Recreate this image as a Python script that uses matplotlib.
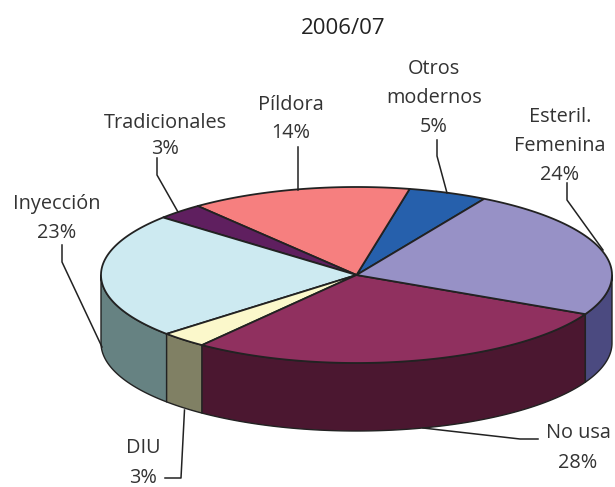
import numpy as np
import matplotlib
matplotlib.use("Agg")
import matplotlib.pyplot as plt
from matplotlib.patches import Polygon

title = "2006/07"
categories = ["Otros\nmodernos", "Píldora", "Tradicionales", "Inyección", "DIU", "No usa", "Esteril.\nFemenina"]
values = [5, 14, 3, 23, 3, 28, 24]
top_colors = ["#2660AC", "#F67F7F", "#5F1F5F", "#CDEAF1", "#FBF8CB", "#90305F", "#9791C6"]
side_colors = ["#1A4070", "#A05050", "#3E143E", "#668282", "#808064", "#4B1730", "#4B4A80"]

START = 60.0
CX, CY, A, B, DEPTH = 356.5, 275.0, 255.5, 88.0, 68.0
EDGE = "#222222"
TXT = "#333333"

plt.rcParams["font.family"] = ["Open Sans", "DejaVu Sans"]
fig = plt.figure(figsize=(6.15, 4.87), dpi=100)
ax = fig.add_axes([0, 0, 1, 1])
ax.set_xlim(0, 615)
ax.set_ylim(487, 0)
ax.axis("off")


def rim(a0, a1, dz=0.0):
    t = np.radians(np.linspace(a0, a1, max(int(abs(a1 - a0)) * 2, 2)))
    return np.column_stack([CX + A * np.cos(t), CY - B * np.sin(t) + dz])


edges = START + np.concatenate([[0], np.cumsum(values)]) * 360.0 / sum(values)

# sides: only the front half of the cylinder (180..360 degrees) is visible
for k in (-1, 0, 1):
    for i in range(len(values)):
        a0, a1 = edges[i] + 360 * k, edges[i + 1] + 360 * k
        lo, hi = max(a0, 180), min(a1, 360)
        if lo < hi:
            upper = rim(lo, hi)
            lower = rim(hi, lo, DEPTH)
            ax.add_patch(Polygon(np.vstack([upper, lower]), closed=True, fc=side_colors[i],
                                 ec=EDGE, lw=1.0, zorder=2, joinstyle="round"))

# top faces
for i in range(len(values)):
    pts = np.vstack([[[CX, CY]], rim(edges[i], edges[i + 1])])
    ax.add_patch(Polygon(pts, closed=True, fc=top_colors[i], ec=EDGE, lw=1.3, zorder=3, joinstyle="round"))

ax.text(343.5, 28, title, ha="center", va="center", fontsize=16, color="#222222")

labels = [
    (434, 98, 0, 1.62, [(437, 140), (437, 156), (447, 193)]),
    (291, 119, 1, 1.55, [(298, 147), (298, 190)]),
    (165, 136, 2, 1.42, [(157, 158), (157, 175), (178, 212)]),
    (57, 218, 3, 1.6, [(62, 245), (62, 262), (102, 347)]),
    (143, 463, 4, 1.62, [(165, 478), (181, 478), (184.5, 410)]),
    (578, 448, 5, 1.6, [(538, 439), (520, 439), (423, 428)]),
    (560, 146, 6, 1.58, [(567, 183), (567, 200), (603, 250)]),
]
for x, y, i, spacing, line in labels:
    ax.text(x, y, f"{categories[i]}\n{values[i]}%", ha="center", va="center", fontsize=14.3,
            color=TXT, linespacing=spacing)
    lx, ly = zip(*line)
    ax.plot(lx, ly, color=EDGE, lw=1.1, zorder=4, solid_joinstyle="round")

fig.savefig("out.png", dpi=100)
